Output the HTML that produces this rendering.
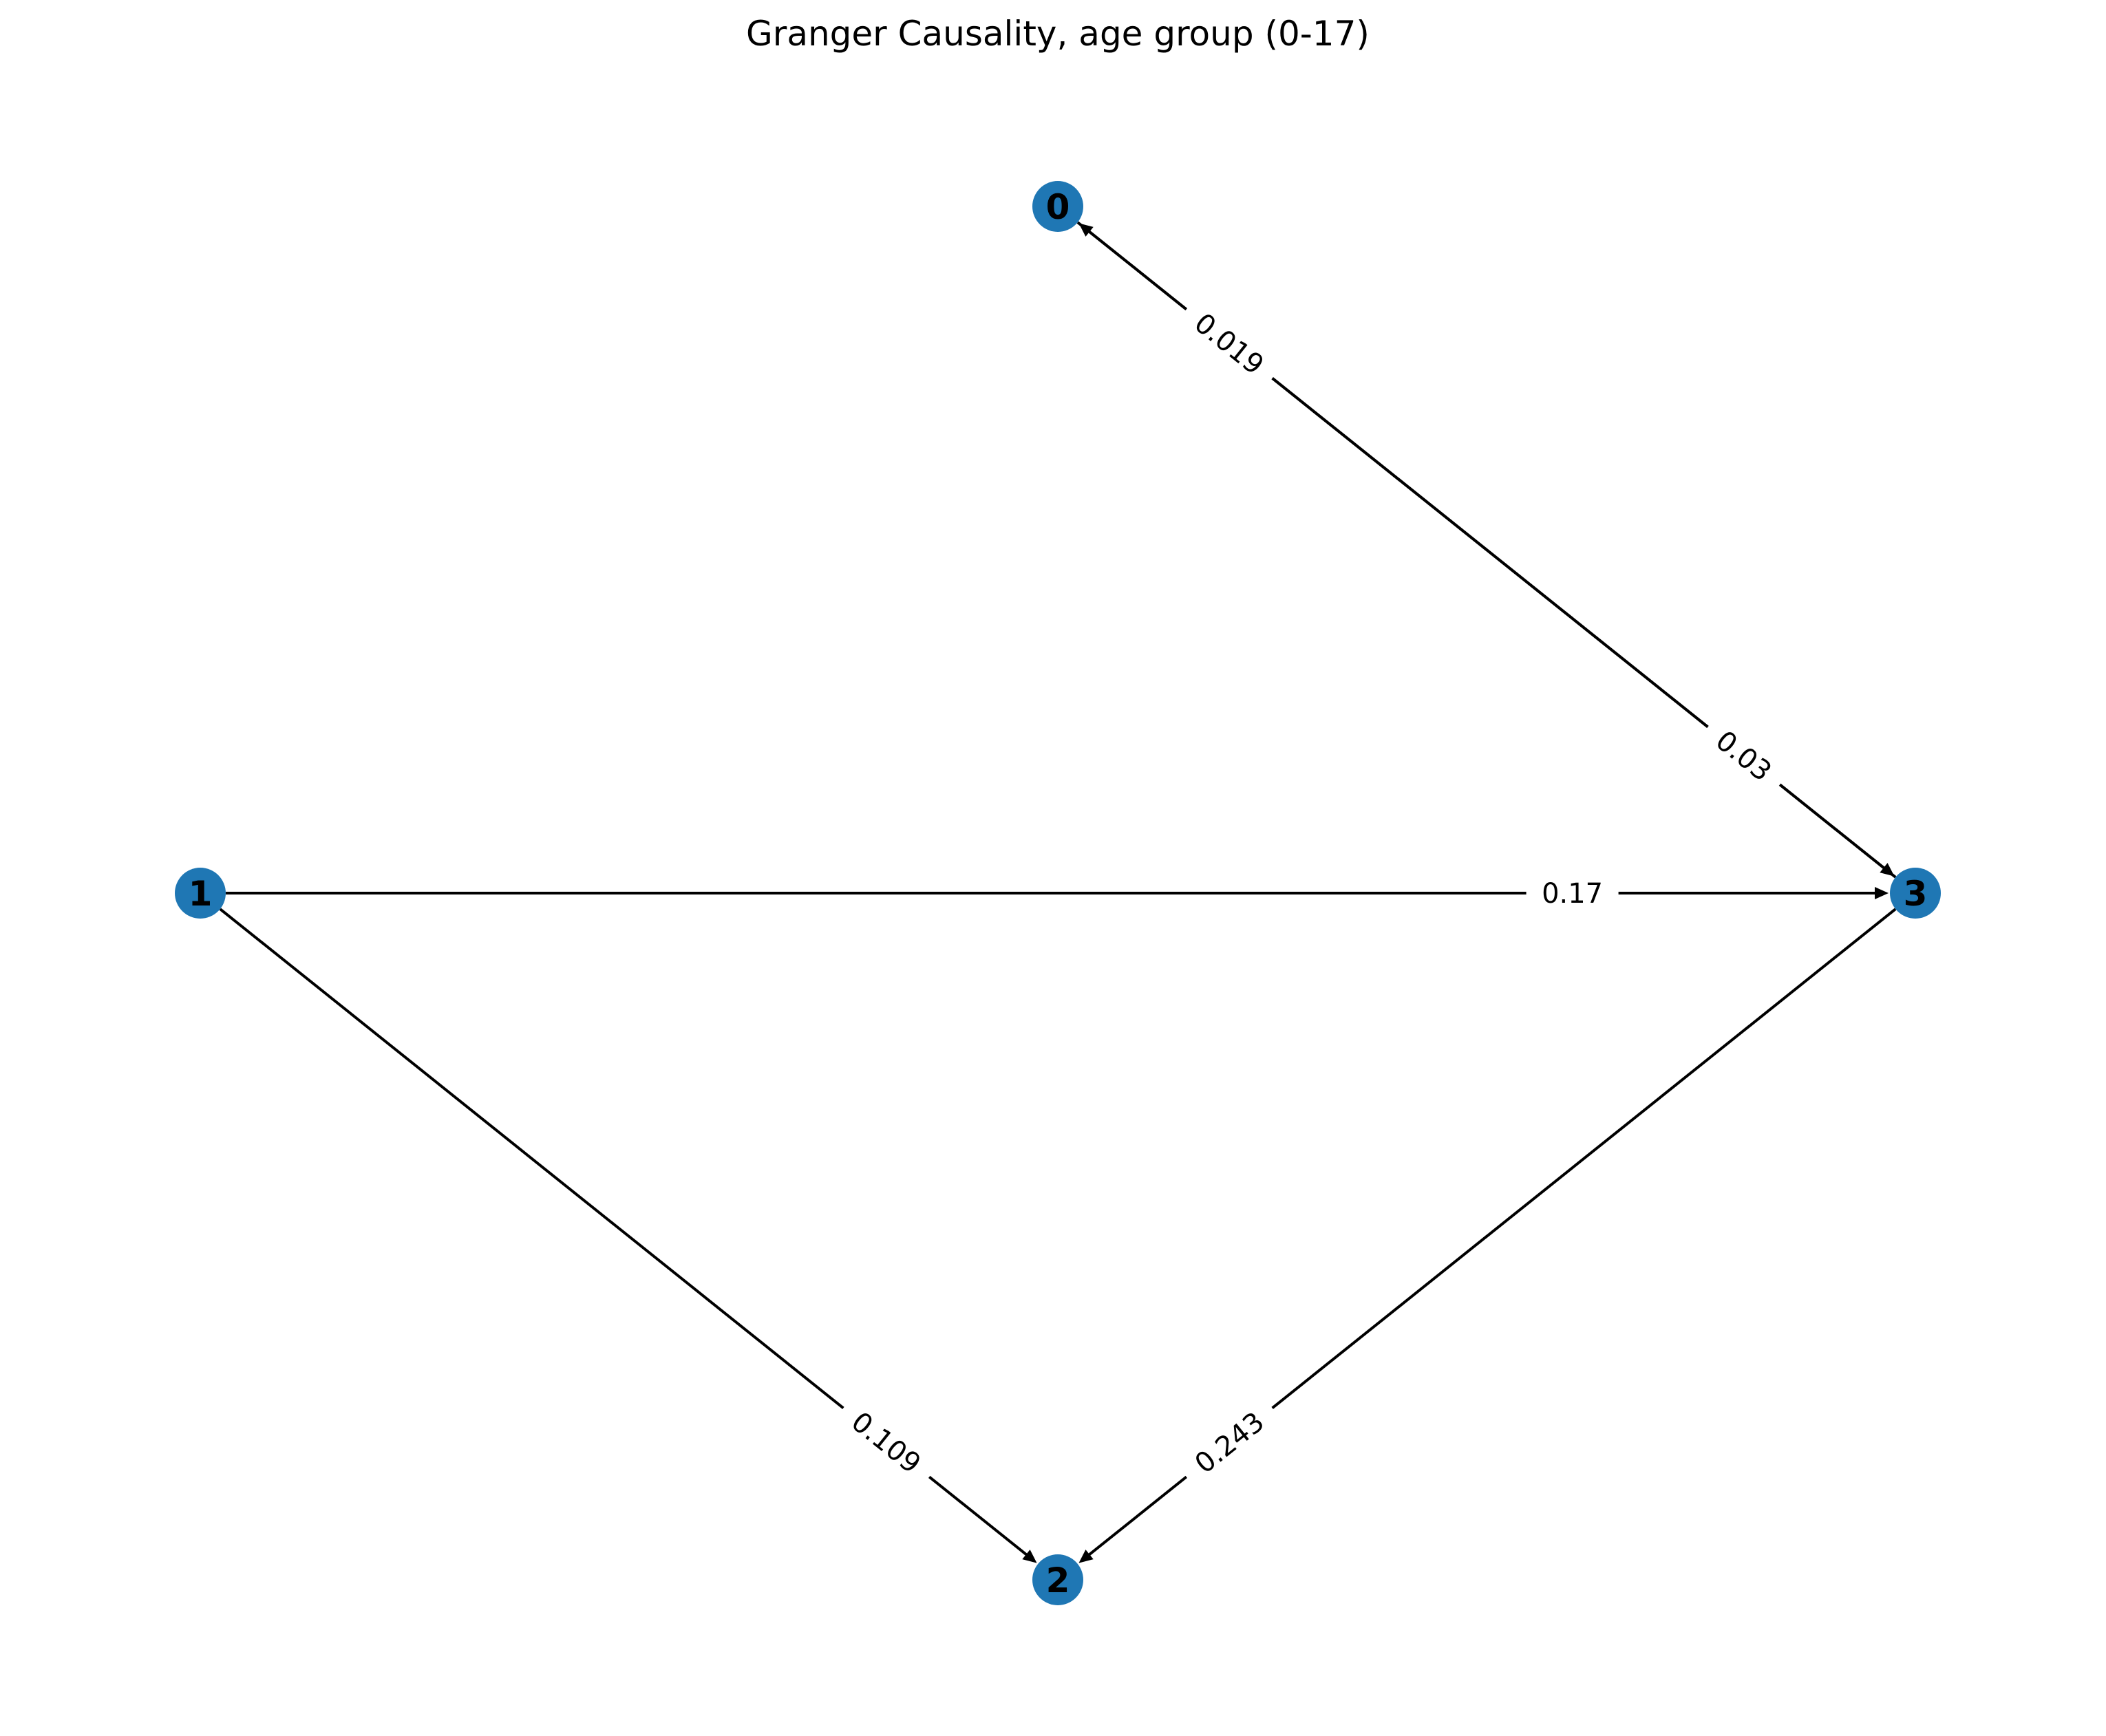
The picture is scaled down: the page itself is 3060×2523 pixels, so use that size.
<!DOCTYPE html>
<html><head><meta charset="utf-8"><style>
html,body{margin:0;padding:0;background:#fff}
svg{display:block}
text{font-family:"DejaVu Sans","Liberation Sans",sans-serif}
</style></head><body>
<svg id="chart" width="3060" height="2523" viewBox="0 0 3060 2523" xmlns="http://www.w3.org/2000/svg">
<rect width="3060" height="2523" fill="#fff"/>
<text x="1537" y="66" font-size="50" text-anchor="middle" fill="#000">Granger Causality, age group (0-17)</text>
<g id="edges"></g>
<g id="labels"></g>
<g id="nodes"></g>
</svg>
<script>
const nodeIds = ["0","1","2","3"];
const nodeX = [0, -1, 0, 1];
const nodeY = [1, 0, -1, 0];
const edgeSrc = ["3","0","1","1","3"];
const edgeTgt = ["0","3","3","2","2"];
const edgeWeights = ["0.019","0.03","0.17","0.109","0.243"];
const labelPos = 0.8;

const cx = 1537, cy = 1298, sx = 1246, sy = 998, R = 37;
const ns = "http://www.w3.org/2000/svg";
function px(i){return cx + nodeX[i]*sx;}
function py(i){return cy - nodeY[i]*sy;}
const eG = document.getElementById('edges');
const lG = document.getElementById('labels');
const nG = document.getElementById('nodes');

edgeSrc.forEach((s,k)=>{
  const a = nodeIds.indexOf(s), b = nodeIds.indexOf(edgeTgt[k]);
  const x1=px(a), y1=py(a), x2=px(b), y2=py(b);
  const dx=x2-x1, dy=y2-y1, L=Math.hypot(dx,dy), ux=dx/L, uy=dy/L;
  const tx=x2-ux*(R+2), ty=y2-uy*(R+2);
  const hl=20, hw=9;
  const bx=tx-ux*hl, by=ty-uy*hl;
  const line=document.createElementNS(ns,'line');
  
  
  line.setAttribute('x1',x1+ux*R);line.setAttribute('y1',y1+uy*R);
  line.setAttribute('x2',bx+ux*2);line.setAttribute('y2',by+uy*2);
  line.setAttribute('stroke','#000');line.setAttribute('stroke-width','4');
  eG.appendChild(line);
  const head=document.createElementNS(ns,'polygon');
  
  
  head.setAttribute('points',`${tx},${ty} ${bx-uy*hw},${by+ux*hw} ${bx+uy*hw},${by-ux*hw}`);
  head.setAttribute('fill','#000');
  eG.appendChild(head);
  const lx=x1+dx*labelPos, ly=y1+dy*labelPos;
  let ang=Math.atan2(dy,dx)*180/Math.PI;
  if(ang>90) ang-=180; if(ang<-90) ang+=180;
  const g=document.createElementNS(ns,'g');
  
  
  g.setAttribute('transform',`translate(${lx},${ly}) rotate(${ang})`);
  const txt=edgeWeights[k];
  const w=txt.length*26+30;
  const r=document.createElementNS(ns,'rect');
  
  
  r.setAttribute('x',-w/2);r.setAttribute('y',-28);r.setAttribute('width',w);r.setAttribute('height',56);
  r.setAttribute('fill','#fff');
  g.appendChild(r);
  const t=document.createElementNS(ns,'text');
  
  
  t.setAttribute('text-anchor','middle');t.setAttribute('y','14');
  t.setAttribute('font-size','40');t.textContent=txt;
  g.appendChild(t);
  lG.appendChild(g);
});

nodeIds.forEach((id,i)=>{
  const c=document.createElementNS(ns,'circle');
  
  
  c.setAttribute('cx',px(i));c.setAttribute('cy',py(i));c.setAttribute('r',R);
  c.setAttribute('fill','#1f77b4');
  nG.appendChild(c);
  const t=document.createElementNS(ns,'text');
  
  
  t.setAttribute('x',px(i));t.setAttribute('y',py(i)+18);
  t.setAttribute('text-anchor','middle');t.setAttribute('font-size','50');
  t.setAttribute('font-weight','bold');t.textContent=id;
  nG.appendChild(t);
});
</script>
</body></html>
